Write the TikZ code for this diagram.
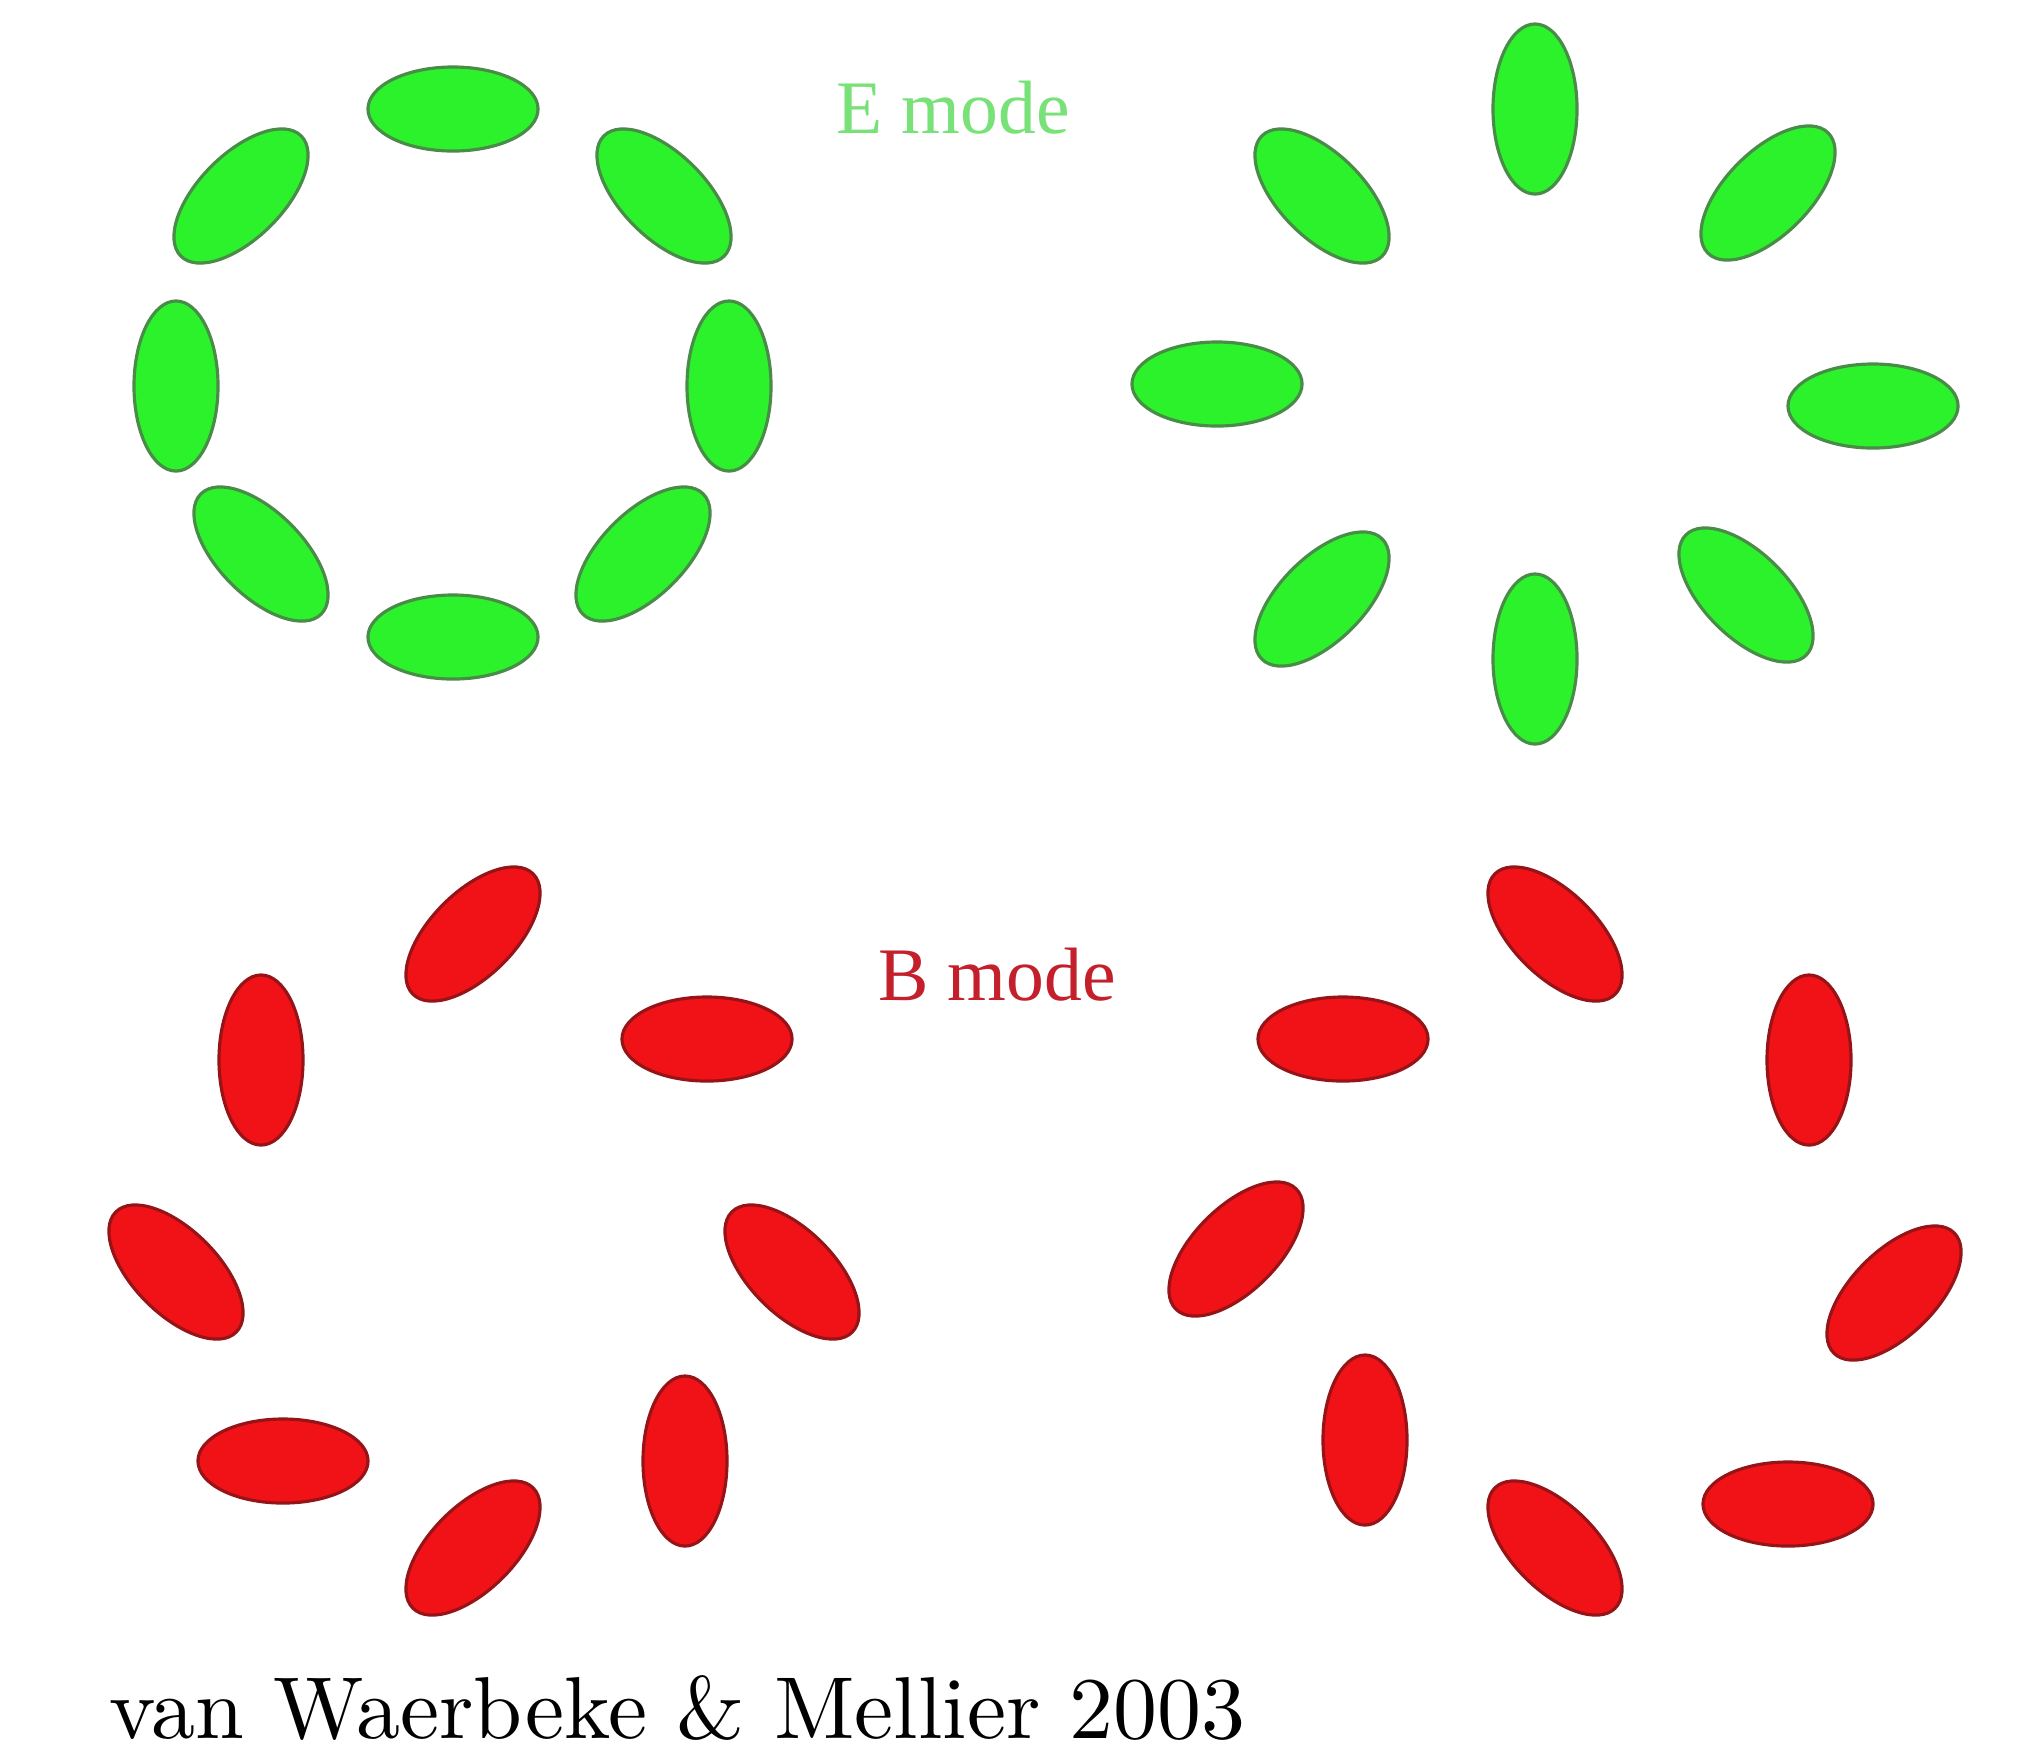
\documentclass[tikz,border=0pt]{standalone}
\usepackage{fontspec}
\newfontfamily\timesf{Liberation Serif}
\newfontfamily\lmten{lmroman10-regular}[Extension=.otf]
\usetikzlibrary{shapes.geometric}
\definecolor{gfill}{RGB}{44,242,44}
\definecolor{gline}{RGB}{72,140,72}
\definecolor{rfill}{RGB}{240,18,22}
\definecolor{rline}{RGB}{150,20,24}
\definecolor{etext}{RGB}{120,226,120}
\definecolor{btext}{RGB}{196,32,44}
\tikzset{
  ell/.style={ellipse, inner sep=0pt, minimum width=1.70cm, minimum height=0.84cm, line width=0.9pt},
  gell/.style={ell, fill=gfill, draw=gline},
  rell/.style={ell, fill=rfill, draw=rline},
}
\begin{document}
\begin{tikzpicture}[x=0.01cm, y=-0.01cm]
\useasboundingbox[fill=white] (0,0) rectangle (2019,1753);
% E mode, tangential ring
\node[gell] (g1) at (453,109) {};
\node[gell] (g2) at (453,637) {};
\node[gell, rotate=90] (g3) at (176,386) {};
\node[gell, rotate=90] (g4) at (729,386) {};
\node[gell, rotate=45] (g5) at (241,196) {};
\node[gell, rotate=-45] (g6) at (664,196) {};
\node[gell, rotate=-45] (g7) at (261,554) {};
\node[gell, rotate=45] (g8) at (643,554) {};
% E mode, radial ring
\node[gell, rotate=90] (g9) at (1535,109) {};
\node[gell, rotate=90] (g10) at (1535,659) {};
\node[gell] (g11) at (1217,384) {};
\node[gell] (g12) at (1873,406) {};
\node[gell, rotate=-45] (g13) at (1322,196) {};
\node[gell, rotate=45] (g14) at (1768,193) {};
\node[gell, rotate=45] (g15) at (1322,599) {};
\node[gell, rotate=-45] (g16) at (1746,595) {};
% B mode, left
\node[rell, rotate=45] (r1) at (473,934) {};
\node[rell, rotate=90] (r2) at (261,1060) {};
\node[rell] (r3) at (707,1039) {};
\node[rell, rotate=-45] (r4) at (176,1272) {};
\node[rell, rotate=-45] (r5) at (792,1272) {};
\node[rell] (r6) at (283,1461) {};
\node[rell, rotate=45] (r7) at (473,1548) {};
\node[rell, rotate=90] (r8) at (685,1461) {};
% B mode, right
\node[rell, rotate=-45] (r9) at (1555,934) {};
\node[rell] (r10) at (1343,1039) {};
\node[rell, rotate=90] (r11) at (1809,1060) {};
\node[rell, rotate=45] (r12) at (1236,1249) {};
\node[rell, rotate=45] (r13) at (1894,1293) {};
\node[rell, rotate=90] (r14) at (1365,1440) {};
\node[rell, rotate=-45] (r15) at (1555,1548) {};
\node[rell] (r16) at (1788,1504) {};
% labels
\node[anchor=base, text=etext, inner sep=0pt, font=\timesf\fontsize{21.5}{24}\selectfont] (elab) at (953,133) {E mode};
\node[anchor=base, text=btext, inner sep=0pt, font=\timesf\fontsize{21.5}{24}\selectfont] (blab) at (997,1000) {B mode};
\node[anchor=base west, inner sep=0pt, font=\lmten\fontsize{25}{30}\selectfont] (cap) at (109,1738) {van Waerbeke \& Mellier 2003};
\end{tikzpicture}
\end{document}
